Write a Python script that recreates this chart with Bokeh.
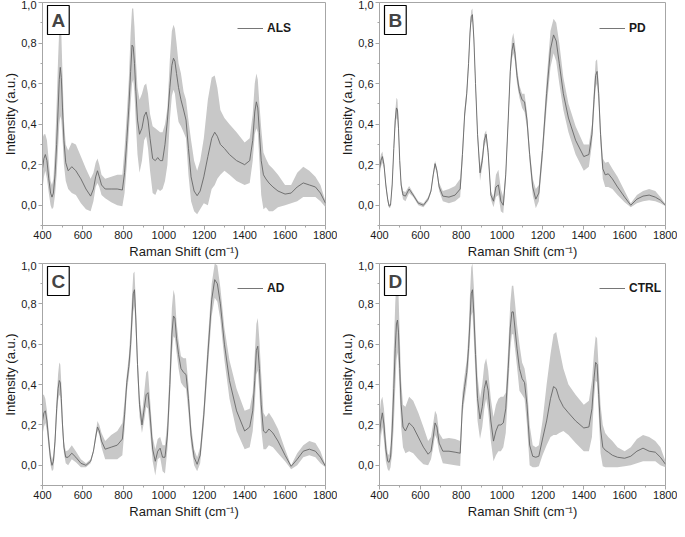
from bokeh.plotting import figure
from bokeh.layouts import gridplot
from bokeh.models import Range1d, FixedTicker, CustomJSTickFormatter, Label, Legend, LegendItem
from bokeh.embed import file_html
from bokeh.resources import INLINE

# Raman shift grid (cm-1)
raman_shift = [400, 407, 414, 422, 431, 440, 447, 454, 462, 470,
               477, 483, 488, 493, 499, 506, 515, 527, 545, 565,
               590, 615, 638, 652, 663, 672, 681, 692, 710, 740,
               770, 795, 806, 817, 827, 836, 843, 849, 855, 862,
               870, 880, 892, 903, 913, 922, 932, 945, 958, 970,
               982, 994, 1006, 1018, 1030, 1040, 1048, 1055, 1063, 1073,
               1085, 1098, 1110, 1122, 1135, 1150, 1165, 1180, 1198, 1218,
               1237, 1252, 1265, 1280, 1300, 1325, 1360, 1400, 1425, 1440,
               1450, 1458, 1465, 1473, 1482, 1493, 1505, 1520, 1540, 1565,
               1600, 1630, 1660, 1690, 1720, 1750, 1775, 1800]

# ---- ALS ----
als_mean = [0.18, 0.23, 0.25, 0.22, 0.13, 0.06, 0.04, 0.06, 0.15, 0.30,
            0.47, 0.62, 0.68, 0.63, 0.48, 0.32, 0.21, 0.17, 0.19, 0.17,
            0.13, 0.08, 0.045, 0.08, 0.14, 0.17, 0.14, 0.10, 0.08, 0.08,
            0.08, 0.075, 0.16, 0.32, 0.48, 0.66, 0.79, 0.78, 0.70, 0.56,
            0.42, 0.35, 0.38, 0.44, 0.46, 0.42, 0.33, 0.23, 0.22, 0.235,
            0.22, 0.22, 0.30, 0.42, 0.58, 0.69, 0.725, 0.71, 0.65, 0.58,
            0.52, 0.47, 0.42, 0.28, 0.14, 0.07, 0.047, 0.07, 0.14, 0.24,
            0.33, 0.36, 0.34, 0.30, 0.28, 0.25, 0.22, 0.20, 0.22, 0.32,
            0.46, 0.51, 0.48, 0.36, 0.22, 0.15, 0.13, 0.11, 0.09, 0.07,
            0.055, 0.06, 0.09, 0.11, 0.10, 0.09, 0.06, 0.01]
als_upper = [0.33, 0.35, 0.35, 0.32, 0.22, 0.12, 0.10, 0.13, 0.28, 0.50,
             0.72, 0.87, 0.91, 0.85, 0.65, 0.42, 0.30, 0.27, 0.31, 0.30,
             0.24, 0.18, 0.13, 0.16, 0.21, 0.23, 0.20, 0.15, 0.13, 0.14,
             0.15, 0.15, 0.28, 0.45, 0.62, 0.85, 0.97, 0.97, 0.88, 0.72,
             0.58, 0.52, 0.55, 0.59, 0.60, 0.55, 0.45, 0.39, 0.38, 0.37,
             0.36, 0.36, 0.40, 0.48, 0.72, 0.86, 0.89, 0.87, 0.80, 0.70,
             0.65, 0.56, 0.52, 0.42, 0.32, 0.22, 0.17, 0.22, 0.33, 0.52,
             0.63, 0.64, 0.58, 0.47, 0.43, 0.40, 0.36, 0.31, 0.33, 0.45,
             0.60, 0.65, 0.62, 0.50, 0.38, 0.26, 0.23, 0.20, 0.18, 0.15,
             0.10, 0.10, 0.16, 0.19, 0.17, 0.14, 0.10, 0.02]
als_lower = [0.08, 0.14, 0.17, 0.13, 0.06, 0.00, -0.02, -0.01, 0.05, 0.15,
             0.28, 0.40, 0.44, 0.42, 0.33, 0.20, 0.12, 0.08, 0.06, 0.05,
             0.01, -0.02, -0.03, 0.02, 0.09, 0.11, 0.09, 0.05, 0.035, 0.015,
             0.00, -0.005, 0.06, 0.20, 0.36, 0.50, 0.60, 0.62, 0.55, 0.40,
             0.25, 0.16, 0.22, 0.32, 0.34, 0.28, 0.17, 0.06, 0.05, 0.08,
             0.07, 0.08, 0.12, 0.20, 0.42, 0.54, 0.57, 0.55, 0.48, 0.41,
             0.39, 0.36, 0.33, 0.15, 0.02, -0.03, -0.045, -0.02, 0.01, 0.00,
             0.08, 0.10, 0.13, 0.15, 0.17, 0.15, 0.12, 0.10, 0.11, 0.22,
             0.35, 0.38, 0.36, 0.22, 0.05, -0.02, -0.01, -0.03, -0.03, -0.01,
             0.00, 0.01, 0.02, 0.04, 0.04, 0.04, 0.02, -0.01]

# ---- PD ----
pd_mean = [0.18, 0.22, 0.24, 0.20, 0.10, 0.03, -0.005, 0.00, 0.10, 0.28,
           0.42, 0.48, 0.47, 0.38, 0.22, 0.10, 0.05, 0.045, 0.08, 0.05,
           0.01, 0.00, 0.03, 0.07, 0.15, 0.205, 0.17, 0.09, 0.045, 0.04,
           0.05, 0.08, 0.25, 0.45, 0.55, 0.70, 0.85, 0.93, 0.94, 0.82,
           0.60, 0.35, 0.16, 0.22, 0.32, 0.35, 0.26, 0.05, 0.02, 0.09,
           0.10, 0.02, 0.00, 0.15, 0.42, 0.66, 0.76, 0.80, 0.75, 0.64,
           0.56, 0.52, 0.51, 0.42, 0.25, 0.09, 0.03, 0.06, 0.27, 0.55,
           0.77, 0.84, 0.81, 0.70, 0.55, 0.43, 0.32, 0.24, 0.25, 0.35,
           0.52, 0.64, 0.66, 0.55, 0.35, 0.18, 0.15, 0.155, 0.13, 0.09,
           0.04, 0.00, 0.03, 0.045, 0.05, 0.04, 0.025, 0.00]
pd_upper = [0.21, 0.25, 0.265, 0.22, 0.12, 0.04, 0.005, 0.01, 0.12, 0.31,
            0.46, 0.53, 0.52, 0.42, 0.25, 0.12, 0.07, 0.065, 0.095, 0.06,
            0.02, 0.01, 0.04, 0.08, 0.165, 0.22, 0.185, 0.11, 0.07, 0.08,
            0.095, 0.13, 0.29, 0.48, 0.58, 0.73, 0.88, 0.96, 0.97, 0.85,
            0.63, 0.38, 0.19, 0.25, 0.35, 0.37, 0.28, 0.07, 0.04, 0.15,
            0.175, 0.08, 0.04, 0.18, 0.45, 0.70, 0.82, 0.85, 0.80, 0.68,
            0.59, 0.55, 0.55, 0.46, 0.28, 0.13, 0.08, 0.10, 0.31, 0.62,
            0.86, 0.92, 0.90, 0.80, 0.63, 0.50, 0.39, 0.30, 0.30, 0.40,
            0.58, 0.71, 0.72, 0.60, 0.40, 0.23, 0.21, 0.215, 0.18, 0.14,
            0.07, 0.01, 0.05, 0.07, 0.08, 0.07, 0.04, 0.005]
pd_lower = [0.14, 0.19, 0.21, 0.18, 0.08, 0.015, -0.015, -0.01, 0.08, 0.25,
            0.38, 0.43, 0.42, 0.34, 0.19, 0.08, 0.03, 0.02, 0.06, 0.04,
            0.00, -0.01, 0.02, 0.06, 0.135, 0.19, 0.155, 0.07, 0.02, 0.01,
            0.02, 0.04, 0.21, 0.42, 0.52, 0.67, 0.82, 0.90, 0.91, 0.79,
            0.57, 0.32, 0.12, 0.19, 0.29, 0.32, 0.23, 0.03, -0.01, 0.04,
            0.05, -0.03, -0.04, 0.12, 0.39, 0.62, 0.72, 0.75, 0.71, 0.60,
            0.53, 0.48, 0.46, 0.38, 0.21, 0.05, -0.015, 0.02, 0.22, 0.48,
            0.68, 0.75, 0.71, 0.60, 0.47, 0.36, 0.25, 0.17, 0.19, 0.30,
            0.46, 0.58, 0.60, 0.49, 0.30, 0.13, 0.09, 0.09, 0.08, 0.05,
            0.015, -0.01, 0.01, 0.02, 0.025, 0.02, 0.01, -0.005]

# ---- AD ----
ad_mean = [0.22, 0.26, 0.27, 0.22, 0.12, 0.03, 0.00, 0.02, 0.12, 0.28,
           0.38, 0.42, 0.41, 0.33, 0.20, 0.09, 0.04, 0.04, 0.06, 0.04,
           0.01, 0.00, 0.02, 0.07, 0.14, 0.19, 0.17, 0.12, 0.08, 0.09,
           0.10, 0.13, 0.25, 0.41, 0.49, 0.60, 0.74, 0.85, 0.87, 0.72,
           0.50, 0.30, 0.20, 0.28, 0.35, 0.36, 0.25, 0.08, 0.02, 0.07,
           0.085, 0.04, 0.04, 0.15, 0.40, 0.65, 0.74, 0.73, 0.63, 0.55,
           0.48, 0.46, 0.45, 0.33, 0.15, 0.04, 0.005, 0.05, 0.25, 0.55,
           0.82, 0.92, 0.90, 0.80, 0.60, 0.42, 0.27, 0.17, 0.19, 0.27,
           0.42, 0.57, 0.59, 0.48, 0.30, 0.17, 0.16, 0.18, 0.16, 0.12,
           0.05, -0.005, 0.03, 0.07, 0.08, 0.07, 0.04, -0.005]
ad_upper = [0.35, 0.35, 0.33, 0.27, 0.16, 0.06, 0.03, 0.05, 0.16, 0.33,
            0.45, 0.51, 0.50, 0.41, 0.25, 0.12, 0.07, 0.075, 0.10, 0.07,
            0.03, 0.01, 0.03, 0.08, 0.16, 0.22, 0.20, 0.16, 0.12, 0.15,
            0.17, 0.21, 0.32, 0.45, 0.54, 0.68, 0.84, 0.95, 0.96, 0.80,
            0.56, 0.35, 0.25, 0.36, 0.46, 0.47, 0.33, 0.14, 0.08, 0.13,
            0.14, 0.10, 0.10, 0.22, 0.50, 0.78, 0.87, 0.84, 0.71, 0.62,
            0.54, 0.53, 0.53, 0.40, 0.20, 0.08, 0.04, 0.09, 0.30, 0.62,
            0.90, 1.00, 0.99, 0.88, 0.68, 0.52, 0.38, 0.27, 0.28, 0.36,
            0.55, 0.70, 0.73, 0.62, 0.45, 0.26, 0.24, 0.26, 0.23, 0.18,
            0.08, 0.00, 0.06, 0.10, 0.12, 0.11, 0.07, 0.00]
ad_lower = [0.15, 0.19, 0.21, 0.17, 0.08, 0.00, -0.03, -0.02, 0.08, 0.22,
            0.32, 0.35, 0.34, 0.26, 0.15, 0.06, 0.01, 0.00, 0.03, 0.015,
            -0.01, -0.01, 0.01, 0.06, 0.12, 0.17, 0.15, 0.09, 0.03, 0.03,
            0.03, 0.05, 0.18, 0.36, 0.44, 0.53, 0.66, 0.76, 0.79, 0.64,
            0.44, 0.24, 0.16, 0.22, 0.29, 0.28, 0.17, 0.02, -0.05, 0.03,
            0.04, -0.03, -0.04, 0.08, 0.32, 0.55, 0.64, 0.63, 0.56, 0.48,
            0.41, 0.39, 0.38, 0.26, 0.10, 0.00, -0.03, 0.01, 0.20, 0.48,
            0.74, 0.83, 0.81, 0.72, 0.52, 0.33, 0.17, 0.08, 0.09, 0.17,
            0.30, 0.45, 0.47, 0.36, 0.18, 0.08, 0.08, 0.10, 0.09, 0.06,
            0.02, -0.02, 0.00, 0.04, 0.05, 0.04, 0.01, -0.01]

# ---- CTRL ----
ctrl_mean = [0.15, 0.22, 0.26, 0.20, 0.08, 0.02, 0.015, 0.04, 0.17, 0.38,
             0.58, 0.70, 0.72, 0.66, 0.48, 0.30, 0.19, 0.17, 0.21, 0.19,
             0.14, 0.09, 0.055, 0.07, 0.14, 0.21, 0.19, 0.11, 0.07, 0.07,
             0.065, 0.06, 0.30, 0.39, 0.46, 0.58, 0.72, 0.85, 0.87, 0.75,
             0.55, 0.33, 0.23, 0.29, 0.38, 0.42, 0.37, 0.22, 0.12, 0.17,
             0.20, 0.20, 0.21, 0.28, 0.48, 0.68, 0.76, 0.76, 0.68, 0.58,
             0.48, 0.43, 0.41, 0.30, 0.10, 0.045, 0.04, 0.045, 0.13, 0.22,
             0.33, 0.39, 0.38, 0.33, 0.29, 0.26, 0.22, 0.185, 0.19, 0.28,
             0.43, 0.51, 0.50, 0.35, 0.18, 0.09, 0.075, 0.065, 0.05, 0.04,
             0.035, 0.045, 0.07, 0.085, 0.07, 0.065, 0.04, 0.005]
ctrl_upper = [0.25, 0.32, 0.34, 0.28, 0.14, 0.06, 0.05, 0.10, 0.30, 0.58,
              0.80, 0.92, 0.93, 0.85, 0.65, 0.42, 0.30, 0.29, 0.34, 0.32,
              0.26, 0.19, 0.12, 0.14, 0.21, 0.27, 0.25, 0.16, 0.13, 0.135,
              0.13, 0.12, 0.36, 0.45, 0.52, 0.66, 0.85, 0.98, 1.00, 0.88,
              0.66, 0.44, 0.33, 0.40, 0.50, 0.53, 0.47, 0.33, 0.24, 0.30,
              0.33, 0.34, 0.34, 0.36, 0.58, 0.80, 0.89, 0.89, 0.81, 0.70,
              0.60, 0.51, 0.48, 0.40, 0.20, 0.10, 0.09, 0.10, 0.22, 0.40,
              0.55, 0.65, 0.66, 0.58, 0.48, 0.40, 0.35, 0.30, 0.32, 0.42,
              0.56, 0.64, 0.63, 0.48, 0.30, 0.20, 0.16, 0.14, 0.12, 0.09,
              0.07, 0.09, 0.13, 0.15, 0.14, 0.12, 0.09, 0.02]
ctrl_lower = [0.05, 0.14, 0.19, 0.12, 0.02, -0.02, -0.03, -0.01, 0.06, 0.20,
              0.38, 0.52, 0.56, 0.50, 0.35, 0.19, 0.09, 0.06, 0.07, 0.06,
              0.03, 0.005, 0.00, 0.03, 0.09, 0.15, 0.13, 0.07, 0.01, 0.005,
              0.00, -0.003, 0.25, 0.33, 0.40, 0.50, 0.62, 0.74, 0.76, 0.62,
              0.44, 0.22, 0.13, 0.19, 0.28, 0.33, 0.27, 0.12, 0.02, 0.05,
              0.07, 0.07, 0.09, 0.16, 0.38, 0.57, 0.65, 0.65, 0.58, 0.49,
              0.37, 0.35, 0.33, 0.20, 0.00, -0.01, -0.01, -0.005, 0.05, 0.10,
              0.14, 0.15, 0.15, 0.16, 0.17, 0.15, 0.11, 0.07, 0.07, 0.14,
              0.33, 0.42, 0.41, 0.25, 0.06, -0.005, -0.01, -0.01, -0.01, -0.01,
              -0.005, 0.00, 0.01, 0.02, 0.02, 0.02, 0.00, -0.01]

panel_letters = ["A", "B", "C", "D"]
group_names = ["ALS", "PD", "AD", "CTRL"]
x_ticks = [400, 600, 800, 1000, 1200, 1400, 1600, 1800]
x_minor = [500, 700, 900, 1100, 1300, 1500, 1700]
y_ticks = [0.0, 0.2, 0.4, 0.6, 0.8, 1.0]
y_minor = [-0.1, 0.1, 0.3, 0.5, 0.7, 0.9]

for arr in (als_mean, als_upper, als_lower, pd_mean, pd_upper, pd_lower,
            ad_mean, ad_upper, ad_lower, ctrl_mean, ctrl_upper, ctrl_lower):
    assert len(arr) == len(raman_shift), (len(arr), len(raman_shift))

FONT = "Liberation Sans"
GRAY = "#a6a6a6"
BAND = "#c8c8c8"
LINE = "#666666"


def make_panel(letter, name, mean, upper, lower, width, height, bl, br, bt, bb, leg_x):
    p = figure(width=width, height=height, output_backend="svg", toolbar_location=None,
               x_range=Range1d(400, 1800), y_range=Range1d(-0.1, 1.0),
               min_border_left=bl, min_border_right=br, min_border_top=bt, min_border_bottom=bb)
    p.xgrid.visible = False
    p.ygrid.visible = False
    p.outline_line_color = GRAY
    p.outline_line_width = 1
    p.background_fill_color = "white"
    p.border_fill_color = "white"

    p.varea(x=raman_shift, y1=lower, y2=upper, fill_color=BAND, fill_alpha=1.0)
    r = p.line(x=raman_shift, y=mean, line_color=LINE, line_width=0.9)

    for ax in (p.xaxis[0], p.yaxis[0]):
        ax.axis_line_color = GRAY
        ax.major_tick_line_color = GRAY
        ax.minor_tick_line_color = GRAY
        ax.major_tick_out = 4
        ax.major_tick_in = 0
        ax.minor_tick_out = 2
        ax.minor_tick_in = 0
        ax.major_label_text_font = FONT
        ax.major_label_text_font_size = "11px"
        ax.major_label_text_color = "#1a1a1a"
        ax.axis_label_text_font = FONT
        ax.axis_label_text_font_size = "13px"
        ax.axis_label_text_font_style = "normal"
        ax.axis_label_text_color = "#1a1a1a"

    p.xaxis.ticker = FixedTicker(ticks=x_ticks, minor_ticks=x_minor)
    p.yaxis.ticker = FixedTicker(ticks=y_ticks, minor_ticks=y_minor)
    p.yaxis.formatter = CustomJSTickFormatter(code="return tick.toFixed(1).replace('.', ',');")
    p.xaxis.axis_label = "Raman Shift (cm\u207b\u00b9)"
    p.yaxis.axis_label = "Intensity (a.u.)"
    p.xaxis.major_label_standoff = 1
    p.xaxis.axis_label_standoff = 2
    p.yaxis.major_label_standoff = 2
    p.yaxis.axis_label_standoff = 0

    lab = Label(x=400, y=1.0, text=letter, text_font=FONT, text_font_size="19px",
                text_font_style="bold", text_align="left", text_baseline="top",
                x_offset=5, y_offset=-3, padding=4,
                border_line_color="black", border_line_width=1.2,
                background_fill_color="white")
    p.add_layout(lab)

    leg = Legend(items=[LegendItem(label=name, renderers=[r])],
                 location=(leg_x, 190), border_line_alpha=0, background_fill_alpha=0,
                 label_text_font=FONT, label_text_font_size="12px",
                 label_text_font_style="bold", label_text_color="#1a1a1a",
                 glyph_width=26, glyph_height=12, label_standoff=4, padding=0, margin=0)
    p.add_layout(leg)
    return p


series = [(als_mean, als_upper, als_lower), (pd_mean, pd_upper, pd_lower),
          (ad_mean, ad_upper, ad_lower), (ctrl_mean, ctrl_upper, ctrl_lower)]

pa = make_panel(panel_letters[0], group_names[0], *series[0], width=337, height=261, bl=34, br=12, bt=2, bb=28, leg_x=195)
pb = make_panel(panel_letters[1], group_names[1], *series[1], width=340, height=261, bl=34, br=12, bt=2, bb=28, leg_x=220)
pc = make_panel(panel_letters[2], group_names[2], *series[2], width=337, height=260, bl=34, br=12, bt=2, bb=28, leg_x=195)
pd_ = make_panel(panel_letters[3], group_names[3], *series[3], width=340, height=260, bl=34, br=12, bt=2, bb=28, leg_x=220)

grid = gridplot([[pa, pb], [pc, pd_]], toolbar_location=None)

open("out.html", "w").write(file_html(grid, INLINE))
